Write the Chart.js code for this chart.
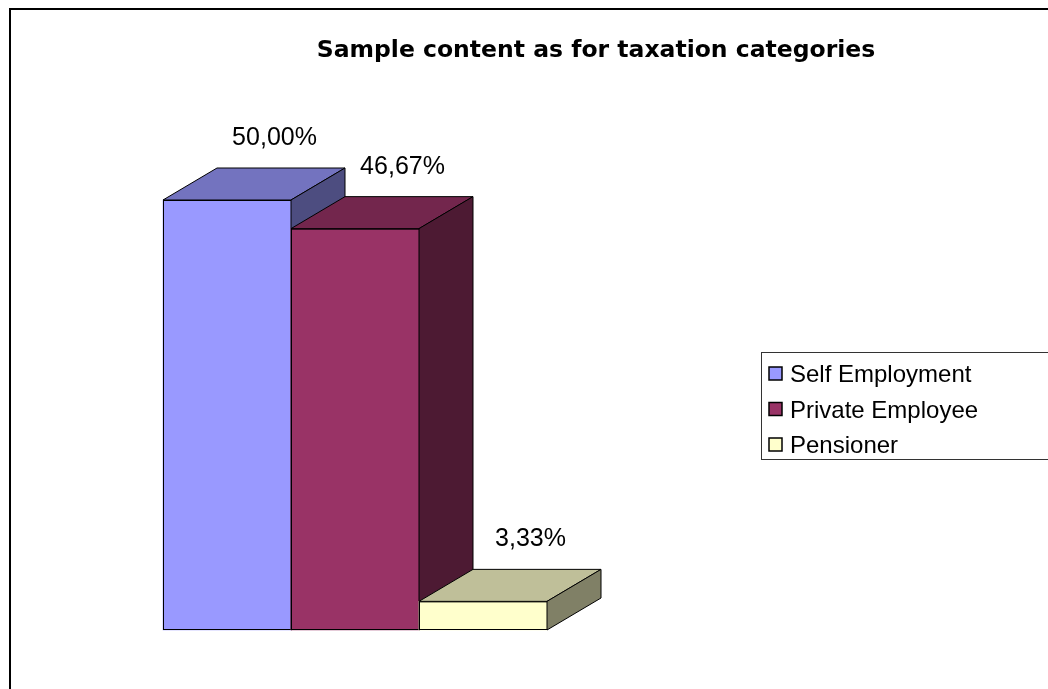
<!DOCTYPE html>
<html>
<head>
<meta charset="utf-8">
<script src="https://cdn.jsdelivr.net/npm/chart.js@4.4.1/dist/chart.umd.min.js"></script>
<style>
    body { margin: 0; background: #fff; }
    #contenedor { position: relative; width: 1048px; height: 689px; }
</style>
</head>
<body>
<div id="contenedor"><canvas id="graficoImpuestos"></canvas></div>
<script>
// DATOS
const titulo = "Sample content as for taxation categories";
const categorias = ["Self Employment", "Private Employee", "Pensioner"];
const valores = [50.00, 46.67, 3.33];

// COLORES (frente, cara superior, lado)
const coloresFrente = ["#9999FF", "#993366", "#FFFFCC"];
const coloresArriba = ["#7373BF", "#73264D", "#BFBF99"];
const coloresLado   = ["#4D4D80", "#4D1A33", "#808066"];

// Profundidad del efecto 3D
const PROF_X = 54;
const PROF_Y = -32;

const FUENTE = '"Liberation Sans", Arial, sans-serif';

function formatoPct(v){
    return v.toFixed(2).replace('.', ',') + '%';
}

function poligono(ctx, puntos, color){
    ctx.beginPath();
    ctx.moveTo(puntos[0][0], puntos[0][1]);
    for (let k = 1; k < puntos.length; k++) ctx.lineTo(puntos[k][0], puntos[k][1]);
    ctx.closePath();
    ctx.fillStyle = color;
    ctx.fill();
    ctx.strokeStyle = '#000';
    ctx.lineWidth = 1;
    ctx.stroke();
}

// Plugin: caras 3D de las barras y etiquetas
const barras3D = {
    id: 'barras3D',
    afterDatasetsDraw(chart){
        const ctx = chart.ctx;
        const meta = chart.getDatasetMeta(0);
        ctx.save();
        meta.data.forEach((barra, i) => {
            const p = barra.getProps(['x', 'y', 'base', 'width'], true);
            const izq = p.x - p.width / 2, der = p.x + p.width / 2;
            const arriba = p.y, abajo = p.base;
            // frente (se vuelve a dibujar para respetar el orden)
            barra.draw(ctx);
            ctx.strokeStyle = '#000';
            ctx.lineWidth = 1;
            ctx.strokeRect(izq + 0.5, arriba + 0.5, der - izq, abajo - arriba - 1);
            poligono(ctx, [[izq, arriba], [izq + PROF_X, arriba + PROF_Y],
                           [der + PROF_X, arriba + PROF_Y], [der, arriba]], coloresArriba[i]);
            poligono(ctx, [[der, arriba], [der + PROF_X, arriba + PROF_Y],
                           [der + PROF_X, abajo + PROF_Y], [der, abajo]], coloresLado[i]);
        });
        // etiquetas de datos
        ctx.fillStyle = '#000';
        ctx.font = '25px ' + FUENTE;
        ctx.textAlign = 'center';
        ctx.textBaseline = 'alphabetic';
        meta.data.forEach((barra, i) => {
            const p = barra.getProps(['x', 'y'], true);
            ctx.fillText(formatoPct(valores[i]), p.x + PROF_X * 0.88, p.y + PROF_Y - 23);
        });
        ctx.restore();
    },
    afterDraw(chart){
        const ctx = chart.ctx;
        ctx.save();
        // marco
        ctx.strokeStyle = '#000';
        ctx.lineWidth = 2;
        ctx.strokeRect(10, 9, 1200, 900);

        // titulo
        ctx.fillStyle = '#000';
        ctx.font = 'bold 23.5px "DejaVu Sans", Verdana, sans-serif';
        ctx.textAlign = 'center';
        ctx.textBaseline = 'alphabetic';
        ctx.fillText(titulo, 596, 57);

        // leyenda
        const lx = 761, ly = 352, alto = 107;
        ctx.lineWidth = 1;
        ctx.strokeStyle = '#333';
        ctx.strokeRect(lx + 0.5, ly + 0.5, 400, alto);
        ctx.font = '24px ' + FUENTE;
        ctx.textAlign = 'left';
        categorias.forEach((nombre, i) => {
            const base = ly + 30 + i * 35.5;
            ctx.fillStyle = coloresFrente[i];
            ctx.fillRect(lx + 8, base - 15, 13, 13);
            ctx.strokeStyle = '#000';
            ctx.lineWidth = 1.5;
            ctx.strokeRect(lx + 8, base - 15, 13, 13);
            ctx.fillStyle = '#000';
            ctx.fillText(nombre, lx + 29, base);
        });
        ctx.restore();
    }
};

const ctx = document.getElementById('graficoImpuestos').getContext('2d');
new Chart(ctx, {
    type: 'bar',
    data: {
        labels: categorias,
        datasets: [{
            data: valores,
            backgroundColor: coloresFrente,
            borderWidth: 0,
            barPercentage: 1,
            categoryPercentage: 1
        }]
    },
    options: {
        responsive: true,
        maintainAspectRatio: false,
        animation: false,
        layout: { padding: { left: 163, right: 501, top: 200, bottom: 59 } },
        plugins: {
            legend: { display: false },
            title: { display: false },
            tooltip: { enabled: false }
        },
        scales: {
            x: { display: false },
            y: { display: false, min: 0, max: 50 }
        }
    },
    plugins: [barras3D]
});
</script>
</body>
</html>
